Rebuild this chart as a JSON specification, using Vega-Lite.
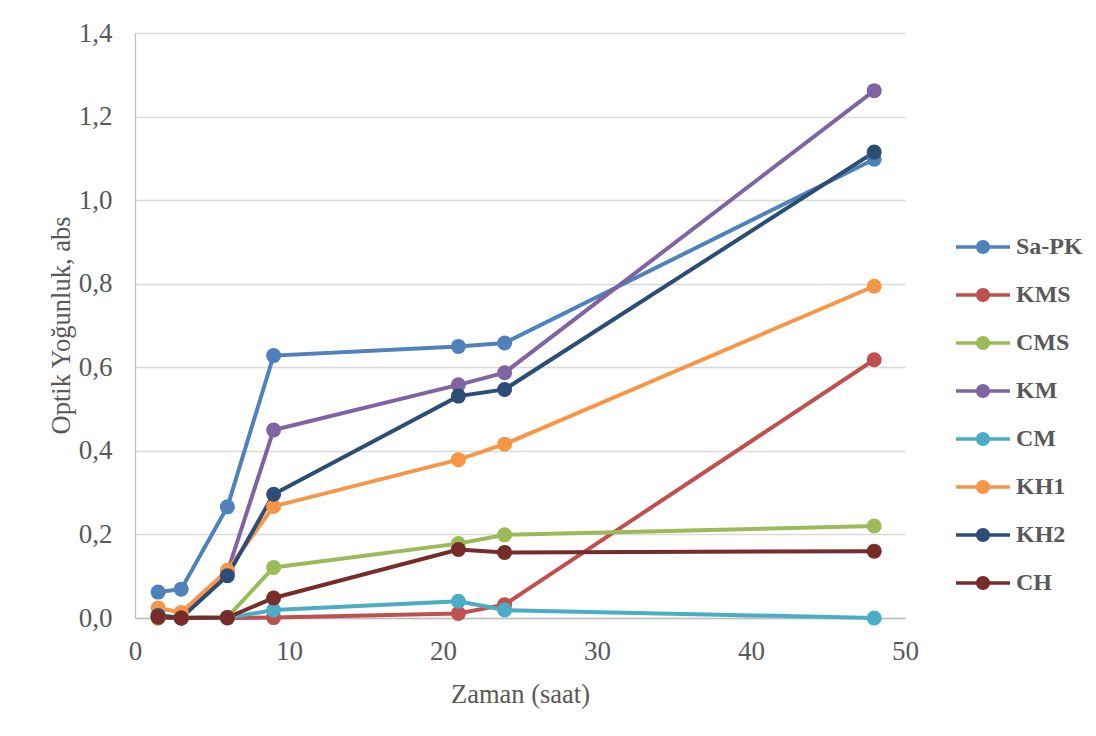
{
  "$schema": "https://vega.github.io/schema/vega-lite/v6.json",
  "autosize": {"type": "none"},
  "padding": {"left": 135, "top": 33, "right": 191, "bottom": 118},
  "width": 770,
  "height": 585,
  "background": "white",
  "config": {
    "font": "Liberation Serif",
    "view": {"stroke": null}
  },
  "data": {
    "values": [
      {"seri": "Sa-PK", "t": 1.5, "od": 0.062},
      {"seri": "Sa-PK", "t": 3, "od": 0.069},
      {"seri": "Sa-PK", "t": 6, "od": 0.266},
      {"seri": "Sa-PK", "t": 9, "od": 0.628},
      {"seri": "Sa-PK", "t": 21, "od": 0.650},
      {"seri": "Sa-PK", "t": 24, "od": 0.658},
      {"seri": "Sa-PK", "t": 48, "od": 1.098},
      {"seri": "KMS", "t": 1.5, "od": 0.0},
      {"seri": "KMS", "t": 3, "od": 0.0},
      {"seri": "KMS", "t": 6, "od": 0.0},
      {"seri": "KMS", "t": 9, "od": 0.001},
      {"seri": "KMS", "t": 21, "od": 0.011},
      {"seri": "KMS", "t": 24, "od": 0.032},
      {"seri": "KMS", "t": 48, "od": 0.618},
      {"seri": "CMS", "t": 1.5, "od": 0.0},
      {"seri": "CMS", "t": 3, "od": 0.0},
      {"seri": "CMS", "t": 6, "od": 0.002},
      {"seri": "CMS", "t": 9, "od": 0.121},
      {"seri": "CMS", "t": 21, "od": 0.178},
      {"seri": "CMS", "t": 24, "od": 0.199},
      {"seri": "CMS", "t": 48, "od": 0.220},
      {"seri": "KM", "t": 1.5, "od": 0.005},
      {"seri": "KM", "t": 3, "od": 0.0},
      {"seri": "KM", "t": 6, "od": 0.11},
      {"seri": "KM", "t": 9, "od": 0.450},
      {"seri": "KM", "t": 21, "od": 0.558},
      {"seri": "KM", "t": 24, "od": 0.587},
      {"seri": "KM", "t": 48, "od": 1.262},
      {"seri": "CM", "t": 1.5, "od": 0.005},
      {"seri": "CM", "t": 3, "od": 0.002},
      {"seri": "CM", "t": 6, "od": 0.0},
      {"seri": "CM", "t": 9, "od": 0.019},
      {"seri": "CM", "t": 21, "od": 0.040},
      {"seri": "CM", "t": 24, "od": 0.019},
      {"seri": "CM", "t": 48, "od": 0.0},
      {"seri": "KH1", "t": 1.5, "od": 0.024},
      {"seri": "KH1", "t": 3, "od": 0.013},
      {"seri": "KH1", "t": 6, "od": 0.114},
      {"seri": "KH1", "t": 9, "od": 0.267},
      {"seri": "KH1", "t": 21, "od": 0.379},
      {"seri": "KH1", "t": 24, "od": 0.416},
      {"seri": "KH1", "t": 48, "od": 0.794},
      {"seri": "KH2", "t": 1.5, "od": 0.006},
      {"seri": "KH2", "t": 3, "od": 0.0},
      {"seri": "KH2", "t": 6, "od": 0.101},
      {"seri": "KH2", "t": 9, "od": 0.296},
      {"seri": "KH2", "t": 21, "od": 0.531},
      {"seri": "KH2", "t": 24, "od": 0.547},
      {"seri": "KH2", "t": 48, "od": 1.115},
      {"seri": "CH", "t": 1.5, "od": 0.002},
      {"seri": "CH", "t": 3, "od": 0.0},
      {"seri": "CH", "t": 6, "od": 0.001},
      {"seri": "CH", "t": 9, "od": 0.048},
      {"seri": "CH", "t": 21, "od": 0.164},
      {"seri": "CH", "t": 24, "od": 0.157},
      {"seri": "CH", "t": 48, "od": 0.160}
    ]
  },
  "encoding": {
    "x": {
      "field": "t", "type": "quantitative",
      "scale": {"domain": [0, 50], "nice": false},
      "axis": {
        "values": [0, 10, 20, 30, 40, 50],
        "title": "Zaman (saat)",
        "grid": false,
        "ticks": false,
        "domainColor": "#BFBFBF",
        "domainWidth": 1.3,
        "labelFont": "Liberation Serif",
        "labelFontSize": 27,
        "labelColor": "#595959",
        "labelPadding": 20,
        "labelFlush": false,
        "titleFont": "Liberation Serif",
        "titleFontSize": 26.5,
        "titleFontWeight": "normal",
        "titleColor": "#595959",
        "titleBaseline": "alphabetic",
        "titleY": 84
      }
    },
    "y": {
      "field": "od", "type": "quantitative",
      "scale": {"domain": [0, 1.4], "nice": false},
      "axis": {
        "values": [0, 0.2, 0.4, 0.6, 0.8, 1.0, 1.2, 1.4],
        "labelExpr": "replace(format(datum.value, '.1f'), '.', ',')",
        "title": "Optik Yoğunluk, abs",
        "grid": true,
        "gridColor": "#D9D9D9",
        "gridWidth": 1.3,
        "ticks": false,
        "domainColor": "#BFBFBF",
        "domainWidth": 1.3,
        "labelFont": "Liberation Serif",
        "labelFontSize": 27,
        "labelColor": "#595959",
        "labelPadding": 23,
        "labelFlush": false,
        "titleFont": "Liberation Serif",
        "titleFontSize": 26.5,
        "titleFontWeight": "normal",
        "titleColor": "#595959",
        "titleAngle": 270,
        "titleAlign": "center",
        "titleBaseline": "middle",
        "titleX": -74,
        "titleY": 292
      }
    },
    "color": {
      "field": "seri", "type": "nominal",
      "scale": {
        "domain": ["Sa-PK", "KMS", "CMS", "KM", "CM", "KH1", "KH2", "CH"],
        "range": ["#4F81BD", "#C0504D", "#9BBB59", "#8064A2", "#4BACC6", "#F79646", "#2C4D75", "#772C2A"]
      },
      "legend": {
        "orient": "none",
        "legendX": 836,
        "legendY": 202,
        "title": null,
        "padding": 0,
        "symbolType": "M-3.86,-0.25 L3.86,-0.25 L3.86,0.25 L-3.86,0.25 Z M1,0 A1,1 0 1,1 -1,0 A1,1 0 1,1 1,0 Z",
        "symbolSize": 196,
        "symbolStrokeWidth": 0,
        "labelFont": "Liberation Serif",
        "labelFontSize": 24,
        "labelFontWeight": "bold",
        "labelColor": "#595959",
        "labelOffset": 21,
        "rowPadding": 24,
        "encode": {
          "symbols": {"update": {"fill": {"scale": "color", "field": "value"}, "strokeWidth": {"value": 0}, "opacity": {"value": 1}}}
        }
      }
    }
  },
  "layer": [
    {
      "mark": {"type": "line", "strokeWidth": 4},
      "encoding": {"order": {"field": "t", "type": "quantitative"}}
    },
    {
      "mark": {"type": "point", "shape": "circle", "filled": true, "opacity": 1, "size": 225}
    }
  ]
}
